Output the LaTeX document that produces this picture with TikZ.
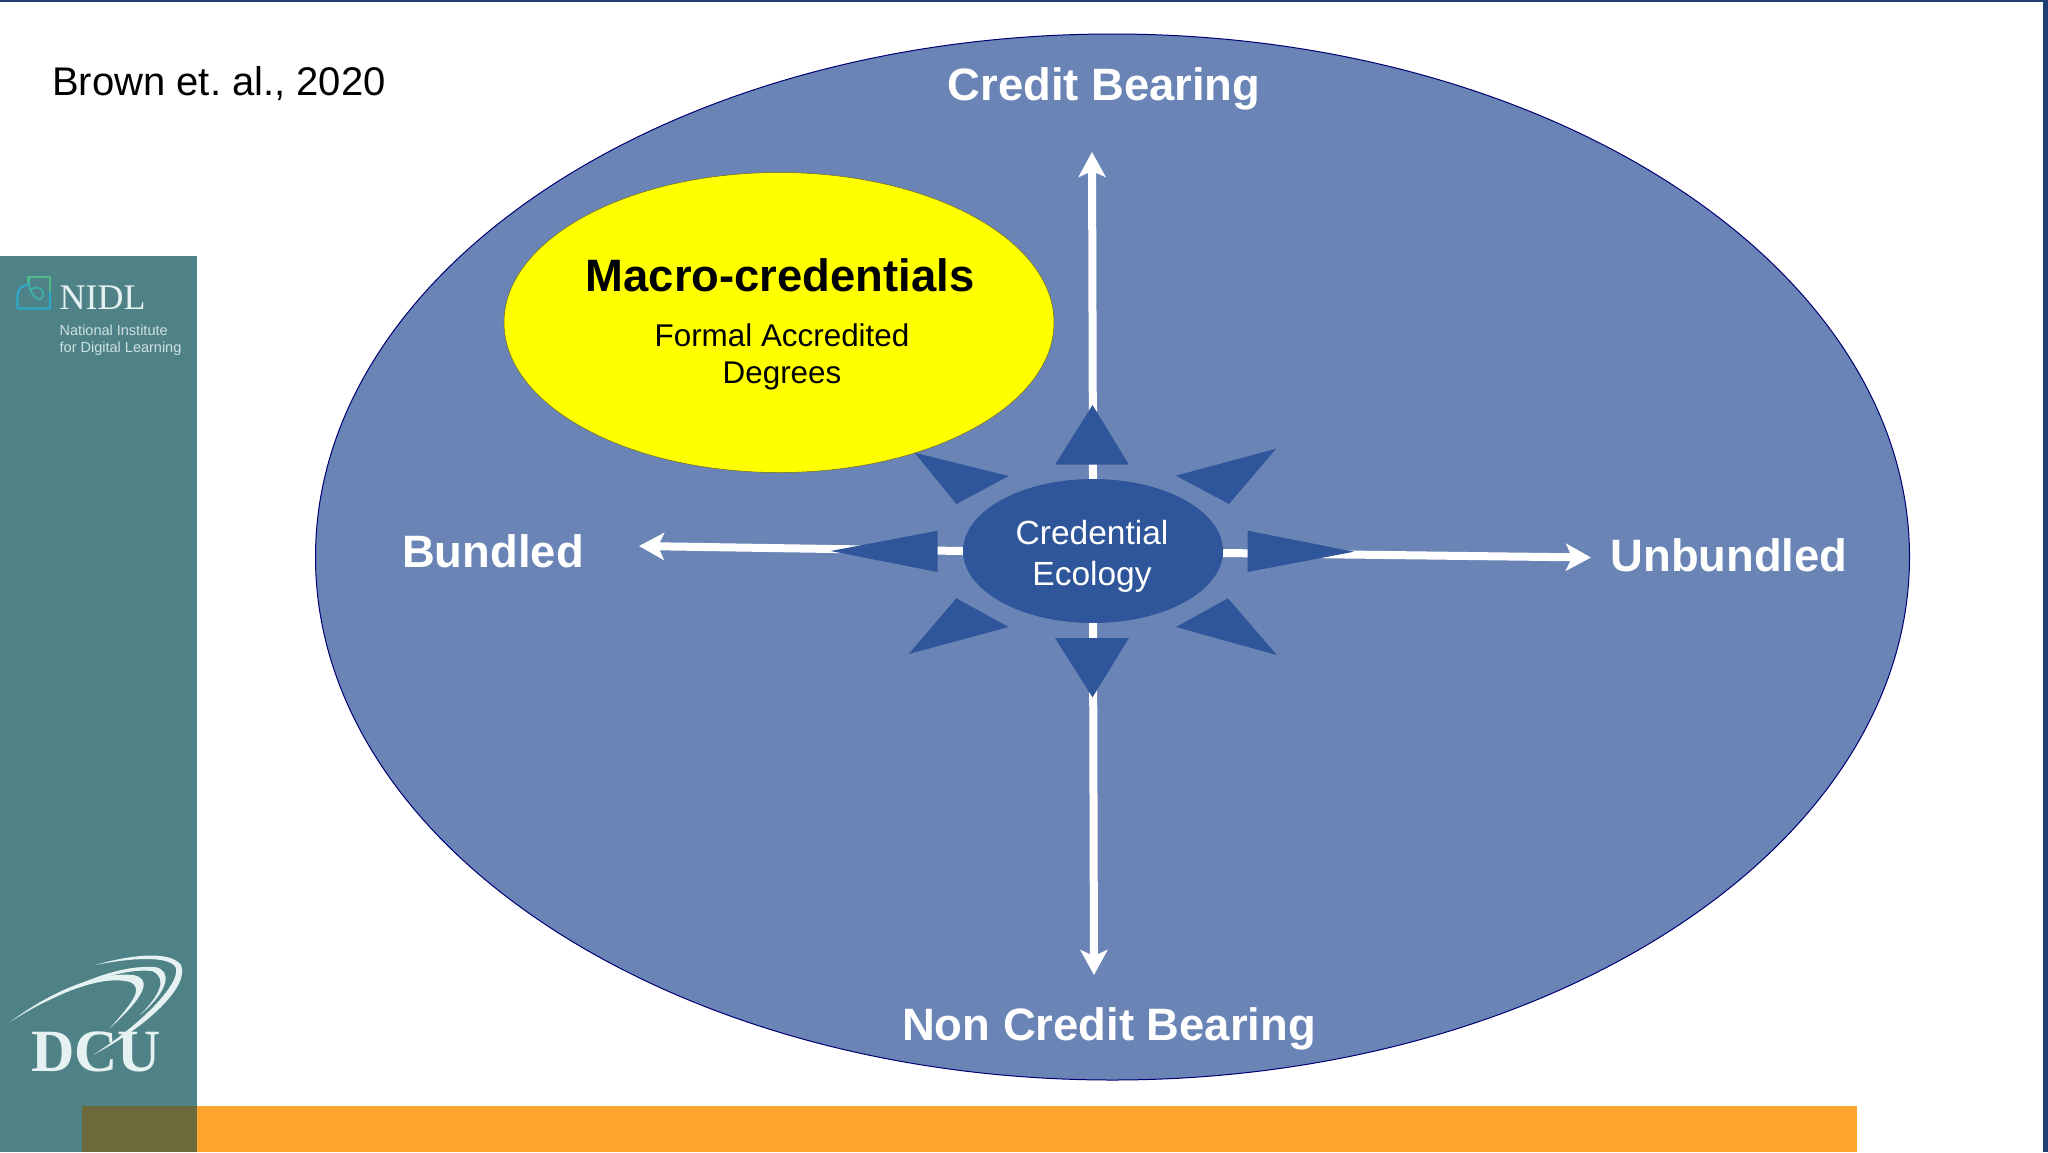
\documentclass[tikz,border=0pt]{standalone}
\usepackage{fontspec}
\setmainfont{Liberation Sans}
\newfontfamily\logoserif{Liberation Serif}
\usetikzlibrary{shapes.geometric,arrows.meta}
\definecolor{slideblue}{HTML}{6A84B6}
\definecolor{coreblue}{HTML}{2F569A}
\definecolor{edgenavy}{HTML}{1F3F73}
\definecolor{sideteal}{HTML}{4F8287}
\definecolor{barorange}{HTML}{FDA52E}
\definecolor{barolive}{HTML}{6B6A38}
\definecolor{logowhite}{HTML}{E6F2F2}
\definecolor{macroyellow}{HTML}{FFFF00}
\definecolor{logogreen}{HTML}{4FB98A}
\definecolor{logocyan}{HTML}{2FA8C8}
\tikzset{
    bigfont/.style={font=\fontsize{45.4}{50}\selectfont\bfseries},
    axislabel/.style={bigfont, text=white},
    axisarrow/.style={white, line width=8pt, -{Stealth[length=25pt,width=27pt,inset=6pt]}},
    ray/.style={fill=coreblue},
}
\begin{document}
\begin{tikzpicture}[x=1pt,y=-1pt]
    \useasboundingbox (0,0) rectangle (2048,1152);
    % slide furniture
    \fill[white] (0,0) rectangle (2048,1152);
    \fill[sideteal] (0,256) rectangle (197,1152);
    \fill[barorange] (197,1106) rectangle (1857,1152);
    \fill[barolive] (82,1106) rectangle (197,1152);
    \fill[edgenavy] (0,0) rectangle (2048,2);
    \fill[edgenavy] (2043,0) rectangle (2048,1152);
    % big ellipse
    \node[ellipse, draw=blue!45!black, line width=1pt, fill=slideblue, minimum width=1594pt, minimum height=1046pt, inner sep=0pt] (ecology) at (1112.5,557) {};
    \node[ellipse, draw=olive!70!black, line width=0.5pt, fill=macroyellow, minimum width=550pt, minimum height=300pt, inner sep=0pt] (macro) at (779,322.5) {};
    \node[ellipse, fill=coreblue, minimum width=260pt, minimum height=144pt, inner sep=0pt] (core) at (1093,551) {};
    % arrow tips
    \coordinate (tipUp) at (1092,152);
    \coordinate (tipDown) at (1094,975);
    \coordinate (tipLeft) at (639,546);
    \coordinate (tipRight) at (1591,557.5);
    \draw[axisarrow] (core.north) -- (tipUp);
    \draw[axisarrow] (core.south) -- (tipDown);
    \draw[axisarrow] (core.west) -- (tipLeft);
    \draw[axisarrow] ([yshift=-2pt]core.east) -- (tipRight);
    % rays round the core
    \fill[ray] (1092.5,405) -- (1055,464.7) -- (1129,464.7) -- cycle;
    \fill[ray] (1092.5,697.3) -- (1055,638) -- (1129,638) -- cycle;
    \fill[ray] (830.7,551) -- (937.5,530.7) -- (937.5,572) -- cycle;
    \fill[ray] (1354,551.7) -- (1247.5,530.7) -- (1247.5,572) -- cycle;
    \fill[ray] (914.6,452.7) -- (1008.6,476) -- (956.4,504) -- cycle;
    \fill[ray] (1276,448.7) -- (1176,475.7) -- (1229,504) -- cycle;
    \fill[ray] (908.6,654) -- (1008.6,627) -- (956.4,598.3) -- cycle;
    \fill[ray] (1276.8,655) -- (1176,627) -- (1227.9,598.3) -- cycle;
    % labels
    \node[axislabel] (credit) at (1104,89) {Credit Bearing};
    \node[axislabel] (noncredit) at (1109,1029) {Non Credit Bearing};
    \node[axislabel] (bundled) at (493,551) {Bundled};
    \node[axislabel] (unbundled) at (1729,555) {Unbundled};
    \node[align=center, text=white, font=\fontsize{33.5}{41}\selectfont] (corelabel) at (1092,556) {Credential\\Ecology};
    \node[bigfont] (macrotitle) at (780,275) {Macro-credentials};
    \node[align=center, font=\fontsize{31.4}{37}\selectfont] (macrotext) at (782,357) {Formal Accredited\\Degrees};
    \node[font=\fontsize{40}{46}\selectfont] (source) at (219,84) {Brown et.\ al., 2020};
    % NIDL logo
    \draw[line width=2.2pt, logogreen, line join=round] (28.5,285) -- (28.5,277) -- (50,277) -- (50,292);
    \draw[line width=2.2pt, logocyan, line join=round] (50,292) -- (50,308.5) -- (17.5,308.5) -- (17.5,296) .. controls (17.5,289) and (22,285) .. (28.5,285);
    \draw[line width=1.8pt, logogreen!50!logocyan] (28,281) .. controls (32,303) and (44,302) .. (43,293) .. controls (42,286) and (33,286) .. (30,291);
    \node[text=logowhite, font=\logoserif\fontsize{36}{40}\selectfont, anchor=west, inner sep=0pt] (nidl) at (59.5,298) {NIDL};
    \node[text=logowhite!85!sideteal, font=\fontsize{14.5}{17.5}\selectfont, anchor=north west, align=left, inner sep=0pt] (nidltext) at (59.5,324.5) {National Institute\\for Digital Learning};
    % DCU logo
    \fill[logowhite] (10,1022) .. controls (60,985) and (105,972) .. (133,975) .. controls (150,978) and (150,992) .. (110,1028) .. controls (135,1000) and (143,988) .. (130,982) .. controls (105,975) and (60,990) .. (10,1022) -- cycle;
    \fill[logowhite] (95,965) .. controls (130,955) and (170,950) .. (181,965) .. controls (190,985) and (150,1025) .. (93,1055) .. controls (140,1025) and (180,985) .. (176,968) .. controls (170,955) and (130,958) .. (95,965) -- cycle;
    \fill[logowhite] (43,1003) .. controls (85,978) and (125,965) .. (155,967) .. controls (172,970) and (170,990) .. (140,1015) .. controls (160,995) and (168,978) .. (152,971) .. controls (125,968) and (85,982) .. (43,1003) -- cycle;
    \node[text=logowhite, font=\logoserif\bfseries\fontsize{60}{66}\selectfont, inner sep=0pt] (dcu) at (96,1052) {DCU};
\end{tikzpicture}
\end{document}
